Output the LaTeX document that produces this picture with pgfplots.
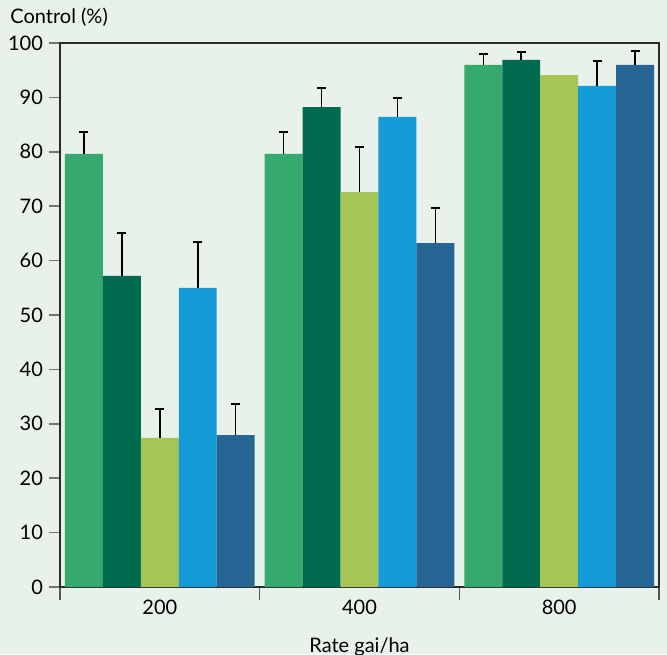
\documentclass[border=0pt]{standalone}
\usepackage{pgfplots}
\pgfplotsset{compat=1.18}
\usepackage{fontspec}
\setmainfont{Lato}
\definecolor{bg}{HTML}{E8F1EA}
\definecolor{c1}{HTML}{36AA6E}
\definecolor{c2}{HTML}{006B4F}
\definecolor{c3}{HTML}{A6C557}
\definecolor{c4}{HTML}{159BD7}
\definecolor{c5}{HTML}{266594}
\definecolor{axc}{HTML}{2B2B2B}
\begin{document}
\fontsize{10}{12}\selectfont
\begin{tikzpicture}
\path[fill=bg, use as bounding box] (-30pt,-33.5pt) rectangle (303.5pt,293.5pt);
\begin{axis}[
  at={(0,0)}, anchor=south west,
  scale only axis, width=299.5pt, height=272pt,
  xmin=-0.5, xmax=2.5, ymin=0, ymax=100,
  ybar=0pt, bar width=0.19,
  xtick={0,1,2}, xticklabels={200,400,800},
  minor xtick={-0.5,0.5,1.5,2.5},
  ytick={0,10,...,100},
  xtick pos=bottom, ytick pos=left,
  tick align=outside,
  major tick length=5.5pt, minor tick length=6.5pt,
  major x tick style={draw=none},
  minor x tick style={draw=axc!80, line width=0.6pt},
  major y tick style={draw=black!55, line width=0.8pt},
  axis line style={draw=axc, line width=0.6pt},
  tick label style={font=\fontsize{10}{12}\selectfont},
  /pgf/number format/assume math mode=true,
  yticklabel style={xshift=0.5pt},
  xticklabel style={yshift=2.5pt},
  clip=false,
  error bars/error bar style={line width=0.75pt, black},
  error bars/error mark=|,
  error bars/error mark options={line width=1pt, mark size=2.25pt, black},
]
\addplot[fill=c1, draw=none, bar shift=-0.38, error bars/.cd, y dir=plus, y explicit]
  coordinates {(0,79.6) +- (0,4.0) (1,79.6) +- (0,4.1) (2,96.0) +- (0,1.9)};
\addplot[fill=c2, draw=none, bar shift=-0.19, error bars/.cd, y dir=plus, y explicit]
  coordinates {(0,57.2) +- (0,7.9) (1,88.2) +- (0,3.5) (2,96.9) +- (0,1.5)};
\addplot[fill=c3, draw=none, bar shift=0]
  coordinates {(0,27.4) (1,72.6) (2,94.1)};
\addplot[fill=none, draw=none, bar shift=0, forget plot, error bars/.cd, y dir=plus, y explicit]
  coordinates {(0,27.4) +- (0,5.3) (1,72.6) +- (0,8.2)};
\addplot[fill=c4, draw=none, bar shift=0.19, error bars/.cd, y dir=plus, y explicit]
  coordinates {(0,55.0) +- (0,8.4) (1,86.4) +- (0,3.5) (2,92.1) +- (0,4.6)};
\addplot[fill=c5, draw=none, bar shift=0.38, error bars/.cd, y dir=plus, y explicit]
  coordinates {(0,27.9) +- (0,5.7) (1,63.2) +- (0,6.5) (2,96.0) +- (0,2.6)};
\node[anchor=base west, inner sep=0pt] at ([xshift=-25pt, yshift=9.5pt]rel axis cs:0,1) {Control (\%)};
\node[anchor=base, inner sep=0pt] at ([yshift=-32.5pt]rel axis cs:0.5,0) {Rate gai/ha};
\end{axis}
\end{tikzpicture}
\end{document}
